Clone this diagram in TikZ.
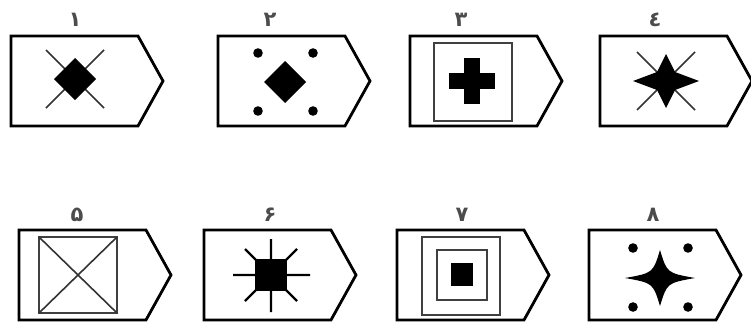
\documentclass[tikz,border=0pt]{standalone}
\usepackage{fontspec}
\newfontfamily\arabicfont[Script=Arabic]{DejaVu Sans}
\begin{document}
\begin{tikzpicture}[x=1pt,y=-1pt,
  tagbox/.style={draw,line width=2.8pt,line join=miter},
  crossline/.style={line width=1.6pt,black!80},
  framesq/.style={draw,line width=2.6pt,black!75},
  numlabel/.style={font=\arabicfont\bfseries\fontsize{21}{21}\selectfont,text=black!70,inner sep=0pt}]
  \useasboundingbox (0,0) rectangle (751,324);
  % the eight tags
  \foreach \x/\y in {11/36,218/36,410/36,600/36,19/230,204/230,397/230,589/230} {
    \draw[tagbox] (\x,\y) -- ++(127,0) -- ++(25,45) -- ++(-25,45) -- ++(-127,0) -- cycle;
  }
  \foreach \n/\x/\y/\d in {1/75/20/۱,2/270/20/۲,3/461/20/۳,4/655/20/٤,5/77/215/۵,6/270/215/۶,7/462/215/۷,8/653/215/۸} {
    \node[numlabel] (n\n) at (\x,\y) {\d};
  }
  % 1
  \draw[crossline] (46,50) -- (104,108) (104,50) -- (46,108);
  \fill (75,58) -- (96,79) -- (75,100) -- (54,79) -- cycle;
  % 2
  \fill (285,61) -- (306,82) -- (285,103) -- (264,82) -- cycle;
  \foreach \x/\y in {258/53,313/53,258/111,313/111} {
    \fill (\x,\y) circle (4.8);
  }
  % 3
  \draw[framesq] (434,43) rectangle (512,121);
  \fill (449,73) rectangle (495,89);
  \fill (464,58) rectangle (480,104);
  % 4
  \draw[crossline] (637,52) -- (695,110) (695,52) -- (637,110);
  \fill (633,81) -- (657,72) -- (666,54) -- (675,72) -- (699,81) -- (675,90) -- (666,108) -- (657,90) -- cycle;
  % 5
  \draw[framesq] (39,237) rectangle (117,313);
  \draw[crossline] (39,237) -- (117,313) (117,237) -- (39,313);
  % 6
  \draw[line width=2.2pt] (233,275) -- (310,275) (271,239) -- (271,312)
    (245,249) -- (297,301) (297,249) -- (245,301);
  \fill (255,259) rectangle (287,291);
  % 7
  \draw[framesq] (422,237) rectangle (500,315);
  \draw[framesq] (437,250) rectangle (487,300);
  \fill (451,263) rectangle (473,286);
  % 8
  \fill (625,278) .. controls (653,273) .. (660,250) .. controls (667,273) .. (695,278)
    .. controls (667,283) .. (660,306) .. controls (653,283) .. (625,278) -- cycle;
  \foreach \x/\y in {633/248,688/248,633/307,688/307} {
    \fill (\x,\y) circle (4.8);
  }
\end{tikzpicture}
\end{document}
